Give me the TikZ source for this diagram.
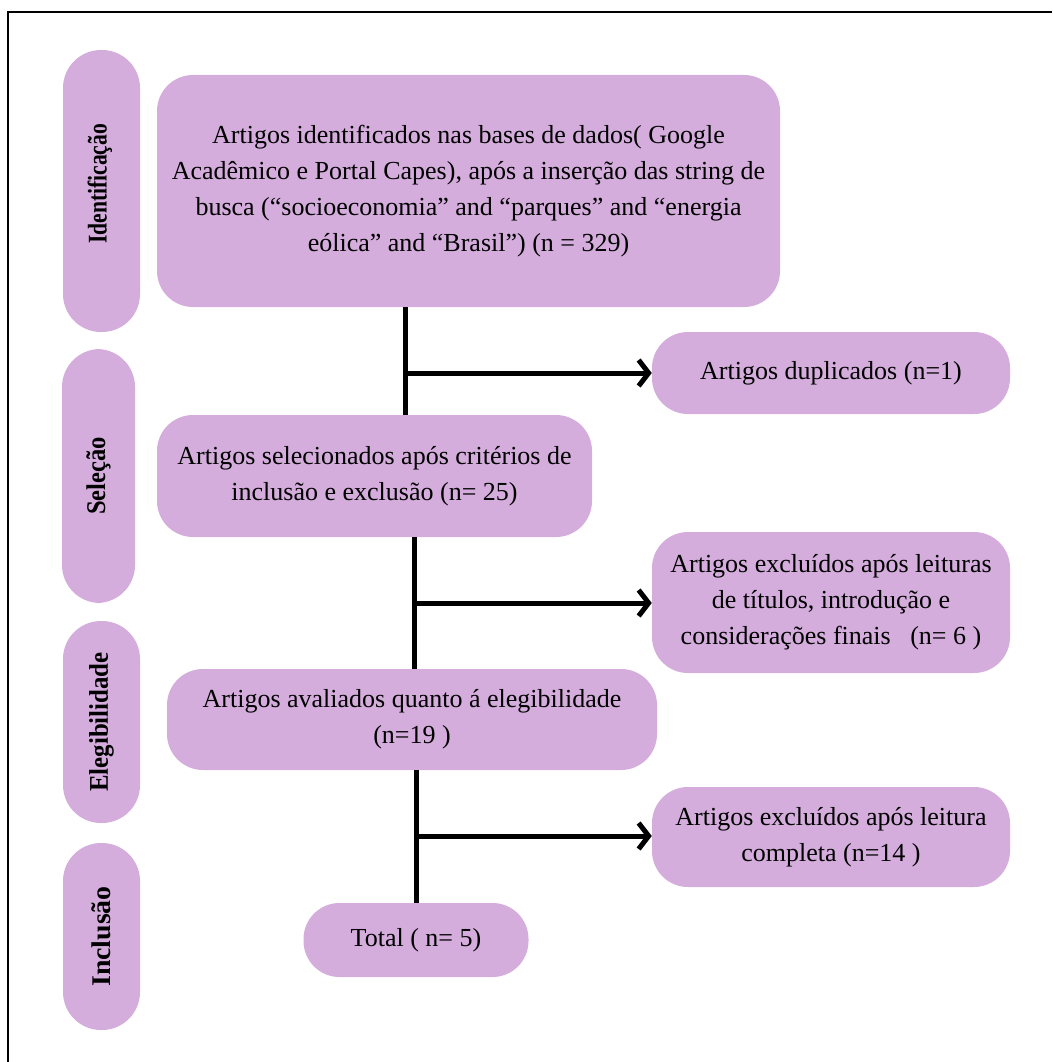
\documentclass[tikz,border=0pt]{standalone}
\usepackage{fontspec}
\setmainfont{Liberation Serif}
\usepackage{graphicx}
\usetikzlibrary{arrows.meta}
\definecolor{lilac}{RGB}{212,173,220}
\begin{document}
\begin{tikzpicture}[x=1pt,y=-1pt,
  box/.style={fill=lilac,draw=none,rounded corners=36pt,align=center,inner sep=0pt,
    font=\fontsize{26}{36}\selectfont},
  pill/.style={fill=lilac,draw=none,rounded corners=38pt,inner sep=0pt,
    font=\fontsize{27}{30}\selectfont\bfseries},
  conn/.style={line width=5pt},
  arr/.style={line width=5pt,-{Straight Barb[length=10pt,width=26pt]}},
  frame/.style={line width=2pt}
]
\useasboundingbox (0,0) rectangle (1052,1062);
\coordinate (ftl) at (8,12);
\coordinate (ftr) at (1052,12);
\coordinate (fbl) at (8,1062);
\draw[frame] (fbl) -- (ftl) -- (ftr);

% side pills
\node[pill,minimum width=77pt,minimum height=282pt] (ident) at (101.5,191) {};
\node[font=\fontsize{27}{30}\selectfont\bfseries,inner sep=0pt] (identlabel) at (100,184)
  {\rotatebox{90}{\scalebox{0.80}[1]{Identificação}}};
\node[pill,minimum width=73pt,minimum height=254pt] (sel) at (98.5,476)
  {\rotatebox{90}{\scalebox{0.91}[1]{Seleção}}};
\node[pill,minimum width=77pt,minimum height=202pt] (eleg) at (101.5,722)
  {\rotatebox{90}{\scalebox{0.92}[1]{Elegibilidade}}};
\node[pill,minimum width=77pt,minimum height=187pt] (incl) at (101.5,936.5)
  {\rotatebox{90}{\scalebox{1.03}[1]{Inclusão}}};

% main boxes
\node[box,minimum width=623pt,minimum height=232pt] (b1) at (468.5,191)
  {Artigos identificados nas bases de dados( Google\\
   Acadêmico e Portal Capes), após a inserção das string de\\
   busca (“socioeconomia” and “parques” and “energia\\
   eólica” and “Brasil”) (n = 329)};
\node[box,minimum width=435pt,minimum height=122pt] (b2) at (374.5,476)
  {Artigos selecionados após critérios de\\ inclusão e exclusão (n= 25)};
\node[box,minimum width=490pt,minimum height=101pt] (b3) at (412,719.5)
  {Artigos avaliados quanto á elegibilidade\\ (n=19 )};
\node[box,minimum width=225pt,minimum height=74pt] (tot) at (416,940)
  {Total ( n= 5)};

% side boxes
\node[box,minimum width=358pt,minimum height=82pt] (dup) at (831,373)
  {Artigos duplicados (n=1)};
\node[box,minimum width=358pt,minimum height=141pt] (ex1) at (831,602.5)
  {Artigos excluídos após leituras\\ de títulos, introdução e\\ considerações finais\ \ \ (n= 6 )};
\node[box,minimum width=358pt,minimum height=100pt] (ex2) at (831,837)
  {Artigos excluídos após leitura\\ completa (n=14 )};

% connectors
\coordinate (j1) at (405,373);
\coordinate (j2) at (414,603);
\coordinate (j3) at (416,836);
\draw[conn] (j1 |- b1.south) -- (j1 |- b2.north);
\draw[arr] (j1) -- (j1 -| dup.west);
\draw[conn] (j2 |- b2.south) -- (j2 |- b3.north);
\draw[arr] (j2) -- (j2 -| ex1.west);
\draw[conn] (j3 |- b3.south) -- (j3 |- tot.north);
\draw[arr] (j3) -- (j3 -| ex2.west);
\end{tikzpicture}
\end{document}
